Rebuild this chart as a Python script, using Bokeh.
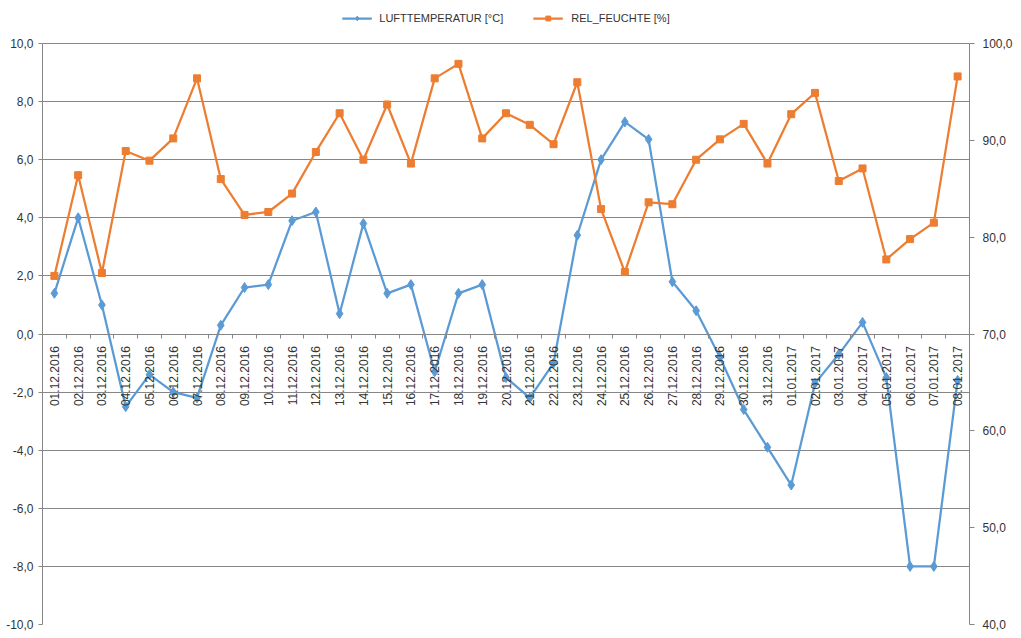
import math
from bokeh.plotting import figure
from bokeh.models import (Range1d, LinearAxis, FixedTicker, CustomJSTickFormatter,
                          Legend, LegendItem, Grid)
from bokeh.embed import file_html
from bokeh.resources import INLINE

dates = ["01.12.2016", "02.12.2016", "03.12.2016", "04.12.2016", "05.12.2016",
         "06.12.2016", "07.12.2016", "08.12.2016", "09.12.2016", "10.12.2016",
         "11.12.2016", "12.12.2016", "13.12.2016", "14.12.2016", "15.12.2016",
         "16.12.2016", "17.12.2016", "18.12.2016", "19.12.2016", "20.12.2016",
         "21.12.2016", "22.12.2016", "23.12.2016", "24.12.2016", "25.12.2016",
         "26.12.2016", "27.12.2016", "28.12.2016", "29.12.2016", "30.12.2016",
         "31.12.2016", "01.01.2017", "02.01.2017", "03.01.2017", "04.01.2017",
         "05.01.2017", "06.01.2017", "07.01.2017", "08.01.2017"]

temperature = [1.4, 4.0, 1.0, -2.5, -1.4, -2.0, -2.2, 0.3, 1.6, 1.7,
               3.9, 4.2, 0.7, 3.8, 1.4, 1.7, -1.3, 1.4, 1.7, -1.5,
               -2.2, -1.0, 3.4, 6.0, 7.3, 6.7, 1.8, 0.8, -0.8, -2.6,
               -3.9, -5.2, -1.7, -0.7, 0.4, -1.5, -8.0, -8.0, -1.6]

humidity = [76.0, 86.4, 76.3, 88.9, 87.9, 90.2, 96.4, 86.0, 82.3, 82.6,
            84.5, 88.8, 92.8, 88.0, 93.7, 87.6, 96.4, 97.9, 90.2, 92.8,
            91.6, 89.6, 96.0, 82.9, 76.4, 83.6, 83.4, 88.0, 90.1, 91.7,
            87.6, 92.7, 94.9, 85.8, 87.1, 77.7, 79.8, 81.5, 96.6]

temp_ticks = list(range(-10, 11, 2))
hum_ticks = list(range(40, 101, 10))
TEMP_MIN, TEMP_MAX = -10, 10
HUM_MIN, HUM_MAX = 40, 100

BLUE = "#5B9BD5"
ORANGE = "#ED7D31"
GRID = "#868686"
TEXT = "#333333"
FONT = "Liberation Sans"

# layout (pixels)
W, H = 1015, 634
PLOT_TOP, PLOT_BOTTOM = 43, 624        # where 10,0 / 100,0 and -10,0 / 40,0 sit
pad = PLOT_TOP / (PLOT_BOTTOM - PLOT_TOP)  # extra space above for the legend

x = list(range(1, len(dates) + 1))

p = figure(width=W, height=H, output_backend="svg", toolbar_location=None,
           x_range=Range1d(0.5, len(dates) + 0.5),
           y_range=Range1d(TEMP_MIN, TEMP_MAX + (TEMP_MAX - TEMP_MIN) * pad),
           x_axis_location=None, y_axis_location=None,
           min_border_left=42, min_border_right=45, min_border_top=0,
           min_border_bottom=H - PLOT_BOTTOM)
p.grid.visible = False
p.outline_line_color = None
p.extra_y_ranges = {"hum": Range1d(HUM_MIN, HUM_MAX + (HUM_MAX - HUM_MIN) * pad)}

yax = LinearAxis(ticker=FixedTicker(ticks=temp_ticks), bounds=(TEMP_MIN, TEMP_MAX),
                 formatter=CustomJSTickFormatter(code="return tick.toFixed(1).replace('.', ',')"),
                 major_tick_out=4, major_tick_in=0, major_label_standoff=5,
                 axis_line_color=GRID, major_tick_line_color=GRID,
                 major_label_text_font=FONT, major_label_text_font_size="12px",
                 major_label_text_color=TEXT)
p.add_layout(yax, "left")
p.add_layout(Grid(dimension=1, axis=yax, grid_line_color=GRID, grid_line_width=1))

rax = LinearAxis(y_range_name="hum", ticker=FixedTicker(ticks=hum_ticks), bounds=(HUM_MIN, HUM_MAX),
                 formatter=CustomJSTickFormatter(code="return tick.toFixed(1).replace('.', ',')"),
                 major_tick_out=5, major_tick_in=0, major_label_standoff=8,
                 axis_line_color=GRID, major_tick_line_color=GRID,
                 major_label_text_font=FONT, major_label_text_font_size="12px",
                 major_label_text_color=TEXT)
p.add_layout(rax, "right")

xlab = LinearAxis(fixed_location=0, ticker=FixedTicker(ticks=x),
                  formatter=CustomJSTickFormatter(args=dict(labels=dates),
                                                  code="return labels[Math.round(tick) - 1] || ''"),
                  major_label_orientation=math.pi / 2, major_tick_line_color=None,
                  major_tick_out=0, major_tick_in=0, major_label_standoff=12,
                  axis_line_color=None,
                  major_label_text_font=FONT, major_label_text_font_size="12px",
                  major_label_text_color=TEXT)
p.add_layout(xlab, "below")

xtk = LinearAxis(fixed_location=0, ticker=FixedTicker(ticks=[i + 0.5 for i in range(0, len(dates) + 1)]),
                 formatter=CustomJSTickFormatter(code="return ''"),
                 major_tick_out=4, major_tick_in=0,
                 axis_line_color=GRID, major_tick_line_color=GRID)
p.add_layout(xtk, "below")

t_line = p.line(x, temperature, line_color=BLUE, line_width=2.25)
t_pts = p.scatter(x, temperature, marker="diamond", size=10, color=BLUE)
h_line = p.line(x, humidity, y_range_name="hum", line_color=ORANGE, line_width=2.25)
h_pts = p.scatter(x, humidity, y_range_name="hum", marker="square", size=7, color=ORANGE)

legend = Legend(items=[LegendItem(label="LUFTTEMPERATUR [°C]", renderers=[t_line, t_pts]),
                       LegendItem(label="REL_FEUCHTE [%]", renderers=[h_line, h_pts])],
                orientation="horizontal", location="top_center",
                border_line_color=None, background_fill_alpha=0,
                margin=12, padding=4, spacing=30, glyph_width=30, glyph_height=12,
                label_standoff=8, label_height=12,
                label_text_font=FONT, label_text_font_size="11px",
                label_text_color=TEXT)
p.add_layout(legend, "center")

open("out.html", "w").write(file_html(p, INLINE))
